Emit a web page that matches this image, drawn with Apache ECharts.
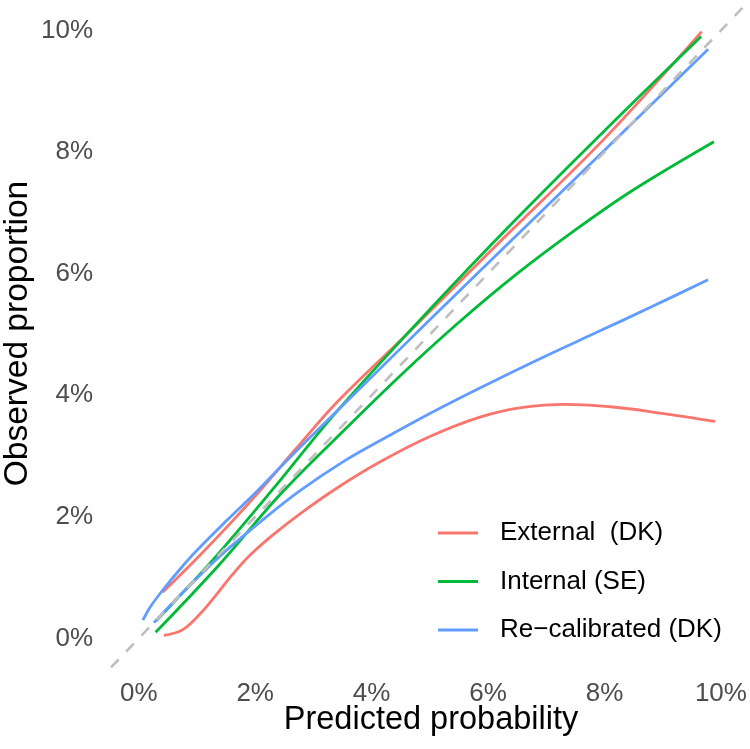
<!DOCTYPE html>
<html>
<head>
<meta charset="utf-8">
<script src="https://cdn.jsdelivr.net/npm/echarts@6/dist/echarts.min.js"></script>
<style>
  html, body { margin: 0; padding: 0; background: #fff; }
  #chart { width: 750px; height: 749px; }
</style>
</head>
<body>
<div id="chart"></div>
<script>
// values in percent
const tickValues = [0, 2, 4, 6, 8, 10];
const seriesNames = ["External  (DK)", "Internal (SE)", "Re\u2212calibrated (DK)"];
const seriesColors = ["#F8766D", "#00BA38", "#619CFF"];

const extUpperX = [0.41, 1.0, 1.56, 2.1, 2.7, 3.4, 4.6, 6.2, 8.0, 9.67];
const extUpperY = [0.76, 1.32, 1.88, 2.45, 3.12, 3.88, 5.0, 6.52, 8.22, 9.98];
const extLowerX = [0.43, 0.75, 1.05, 1.3, 1.6, 1.9, 2.3, 2.77, 3.4, 4.14, 5.0, 5.86, 6.6, 7.35, 8.1, 8.72, 9.9];
const extLowerY = [0.05, 0.14, 0.4, 0.68, 1.04, 1.36, 1.7, 2.05, 2.47, 2.9, 3.32, 3.64, 3.8, 3.85, 3.81, 3.74, 3.57];

const intUpperX = [0.3, 1.3, 2.3, 3.3, 4.6, 6.2, 8.0, 9.66];
const intUpperY = [0.29, 1.32, 2.45, 3.62, 5.0, 6.62, 8.35, 9.9];
const intLowerX = [0.29, 1.39, 2.42, 3.5, 4.5, 5.5, 6.5, 7.5, 8.5, 9.88];
const intLowerY = [0.1, 1.22, 2.36, 3.4, 4.33, 5.2, 6.0, 6.72, 7.38, 8.17];

const recUpperX = [0.07, 0.2, 0.4, 0.7, 1.0, 1.5, 2.04, 2.6, 3.3, 4.0, 5.0, 6.2, 8.0, 9.78];
const recUpperY = [0.3, 0.52, 0.78, 1.13, 1.45, 1.93, 2.43, 2.98, 3.64, 4.3, 5.24, 6.36, 8.03, 9.69];
const recLowerX = [0.26, 0.8, 1.39, 2.13, 2.77, 3.5, 4.14, 5.0, 5.86, 7.0, 7.86, 8.8, 9.78];
const recLowerY = [0.26, 0.8, 1.35, 1.95, 2.43, 2.9, 3.25, 3.7, 4.12, 4.65, 5.03, 5.45, 5.9];

const diagonal = [-1, 11];

const zip = (xs, ys) => xs.map((x, i) => [x, ys[i]]);

const curve = (idx, xs, ys) => ({
  name: seriesNames[idx],
  type: "line",
  data: zip(xs, ys),
  smooth: 0.35,
  symbol: "none",
  color: seriesColors[idx],
  lineStyle: { color: seriesColors[idx], width: 2.8 },
  emphasis: { disabled: true },
});

const chart = echarts.init(document.getElementById("chart"));

const option = {
  backgroundColor: "#ffffff",
  animation: false,
  textStyle: { fontFamily: "Liberation Sans, Arial, sans-serif" },
  grid: { left: 112, right: 0, top: 0, bottom: 82, outerBoundsMode: "none" },
  legend: {
    orient: "vertical",
    left: 433,
    top: 513,
    icon: "rect",
    itemWidth: 40,
    itemHeight: 3,
    itemGap: 18.5,
    data: seriesNames,
    textStyle: {
      fontSize: 26,
      color: "#000",
      lineHeight: 30,
      padding: [0, 0, 0, 17],
    },
  },
  xAxis: {
    type: "value",
    min: -0.46,
    max: 10.5,
    name: "Predicted probability",
    nameLocation: "middle",
    nameGap: 37,
    nameMoveOverlap: false,
    nameTextStyle: { fontSize: 32.5, color: "#000" },
    axisLine: { show: false },
    axisTick: { show: false },
    splitLine: { show: false },
    axisLabel: {
      customValues: tickValues,
      formatter: (v) => v + "%",
      fontSize: 26,
      color: "#4D4D4D",
      margin: 14,
    },
  },
  yAxis: {
    type: "value",
    min: -0.47,
    max: 10.5,
    name: "Observed proportion",
    nameLocation: "middle",
    nameGap: 77,
    nameMoveOverlap: false,
    nameTextStyle: { fontSize: 33.5, color: "#000" },
    axisLine: { show: false },
    axisTick: { show: false },
    splitLine: { show: false },
    axisLabel: {
      customValues: tickValues,
      formatter: (v) => v + "%",
      fontSize: 26,
      color: "#4D4D4D",
      margin: 19,
    },
  },
  series: [
    curve(0, extUpperX, extUpperY),
    curve(0, extLowerX, extLowerY),
    curve(1, intUpperX, intUpperY),
    curve(1, intLowerX, intLowerY),
    curve(2, recUpperX, recUpperY),
    curve(2, recLowerX, recLowerY),
    {
      name: "diagonal",
      type: "line",
      data: zip(diagonal, diagonal),
      symbol: "none",
      silent: true,
      lineStyle: { color: "#BEBEBE", width: 2.6, type: [11, 11] },
    },
  ],
};

option && chart.setOption(option);
</script>
</body>
</html>
